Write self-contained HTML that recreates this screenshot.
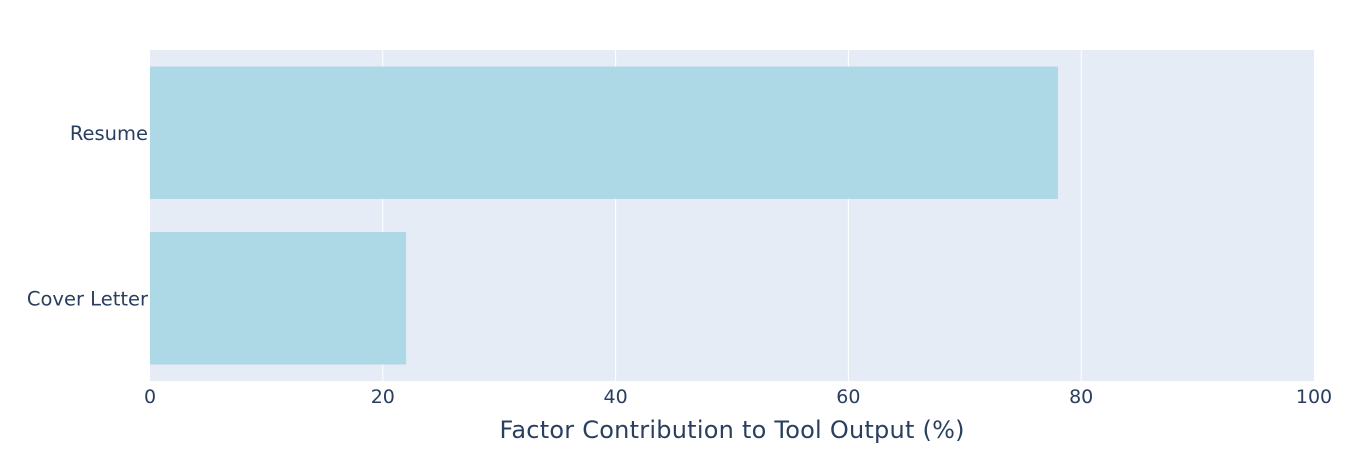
<!DOCTYPE html>
<html><head><meta charset="utf-8"><style>
body{margin:0;background:#fff;width:1346px;height:450px;overflow:hidden}
text{font-family:"DejaVu Sans","Liberation Sans",sans-serif;fill:#2a3f5f}
</style></head><body>
<svg id="chart" width="1346" height="450" xmlns="http://www.w3.org/2000/svg">
<rect x="150" y="50" width="1164" height="331" fill="#e5ecf6"/>
<g id="grid"></g><g id="bars"></g><g id="xticks"></g><g id="yticks"></g>
<text x="732" y="438" text-anchor="middle" font-size="24" textLength="465">Factor Contribution to Tool Output (%)</text>
</svg>
<script>
const categories = ["Resume", "Cover Letter"];
const values = [78, 22];
const tickValues = [0, 20, 40, 60, 80, 100];
const ns = "http://www.w3.org/2000/svg";
const X0 = 150, X1 = 1314, Y0 = 50, Y1 = 381;
const xs = v => X0 + (v / 100) * (X1 - X0);
const band = (Y1 - Y0) / categories.length;
const yc = i => Y0 + band * (i + 0.5);
function mk(tag, attrs, parent){const e=document.createElementNS(ns,tag);for(const k in attrs)e.setAttribute(k,attrs[k]);document.getElementById(parent).appendChild(e);return e;}
tickValues.forEach(t=>{
  if(t>0&&t<100){const l=mk('line',{x1:xs(t),x2:xs(t),y1:Y0,y2:Y1,stroke:'#fff','stroke-width':1},'grid');
  
  }
  const tx=mk('text',{x:xs(t),y:403,'text-anchor':'middle','font-size':19},'xticks');
  tx.textContent=t;
  
  
});
categories.forEach((c,i)=>{
  const h=band*0.8;
  const r=mk('rect',{x:xs(0),y:yc(i)-h/2,width:xs(values[i])-xs(0),height:h,fill:'#add8e6'},'bars');
  
  
  const t=mk('text',{x:148,y:yc(i)+7,'text-anchor':'end','font-size':19.5},'yticks');
  t.textContent=c;
  
  
});
</script>
</body></html>
